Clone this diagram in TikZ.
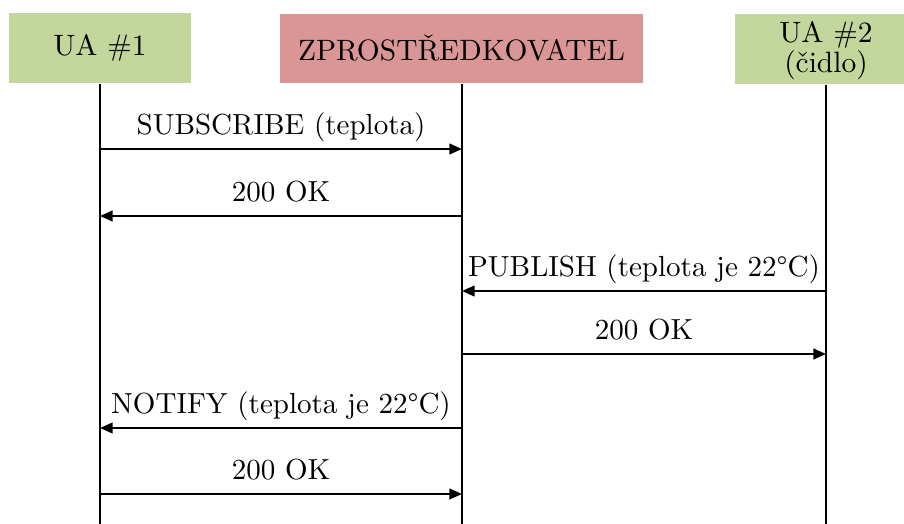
\documentclass[tikz,border=0pt]{standalone}
\usepackage{fontspec}
\usetikzlibrary{arrows.meta}
\definecolor{agentgreen}{HTML}{C3D69B}
\definecolor{brokerred}{HTML}{D99694}
\begin{document}
\begin{tikzpicture}[x=0.353pt,y=-0.353pt,
  party/.style={minimum height=24.7pt, inner sep=0pt, align=center,
    font=\fontsize{10.4}{10.6}\selectfont},
  lifeline/.style={line width=0.75pt},
  msg/.style={line width=0.75pt, -{Triangle[length=4.5pt,width=3.8pt]}},
  msglabel/.style={midway, above, inner sep=0pt, text depth=0pt, yshift=4.6pt,
    font=\fontsize{10.25}{12}\selectfont}]
\useasboundingbox (0,0) rectangle (904,524);

% participants
\node[party, fill=agentgreen, minimum width=64.2pt] (ua1) at (100,48) {UA \#1};
\node[party, fill=brokerred, minimum width=128.1pt] (broker) at (461.5,48.5) {ZPROSTŘEDKOVATEL};
\node[party, fill=agentgreen, minimum width=64.2pt, minimum height=24.7pt] (ua2) at (826,49) {};
\node[party, minimum height=0pt] (ua2text) at (826,50.5) {UA \#2\\(čidlo)};

% lifeline ends
\coordinate (ua1end) at (100,524);
\coordinate (brokerend) at (462,524);
\coordinate (ua2end) at (826,524);

\draw[lifeline] (ua1.south) -- (ua1end);
\draw[lifeline] (broker.south -| brokerend) -- (brokerend);
\draw[lifeline] (ua2.south) -- (ua2end);

% message anchors on the lifelines
\coordinate (s1) at (100,149); \coordinate (r1) at (462,149);
\coordinate (s2) at (462,216); \coordinate (r2) at (100,216);
\coordinate (s3) at (826,291); \coordinate (r3) at (462,291);
\coordinate (s4) at (462,354); \coordinate (r4) at (826,354);
\coordinate (s5) at (462,428); \coordinate (r5) at (100,428);
\coordinate (s6) at (100,494); \coordinate (r6) at (462,494);

% messages
\draw[msg] (s1) -- (r1) node[msglabel] {SUBSCRIBE (teplota)};
\draw[msg] (s2) -- (r2) node[msglabel] {200 OK};
\draw[msg] (s3) -- (r3) node[msglabel] {PUBLISH (teplota je 22°C)};
\draw[msg] (s4) -- (r4) node[msglabel] {200 OK};
\draw[msg] (s5) -- (r5) node[msglabel] {NOTIFY (teplota je 22°C)};
\draw[msg] (s6) -- (r6) node[msglabel] {200 OK};
\end{tikzpicture}
\end{document}
